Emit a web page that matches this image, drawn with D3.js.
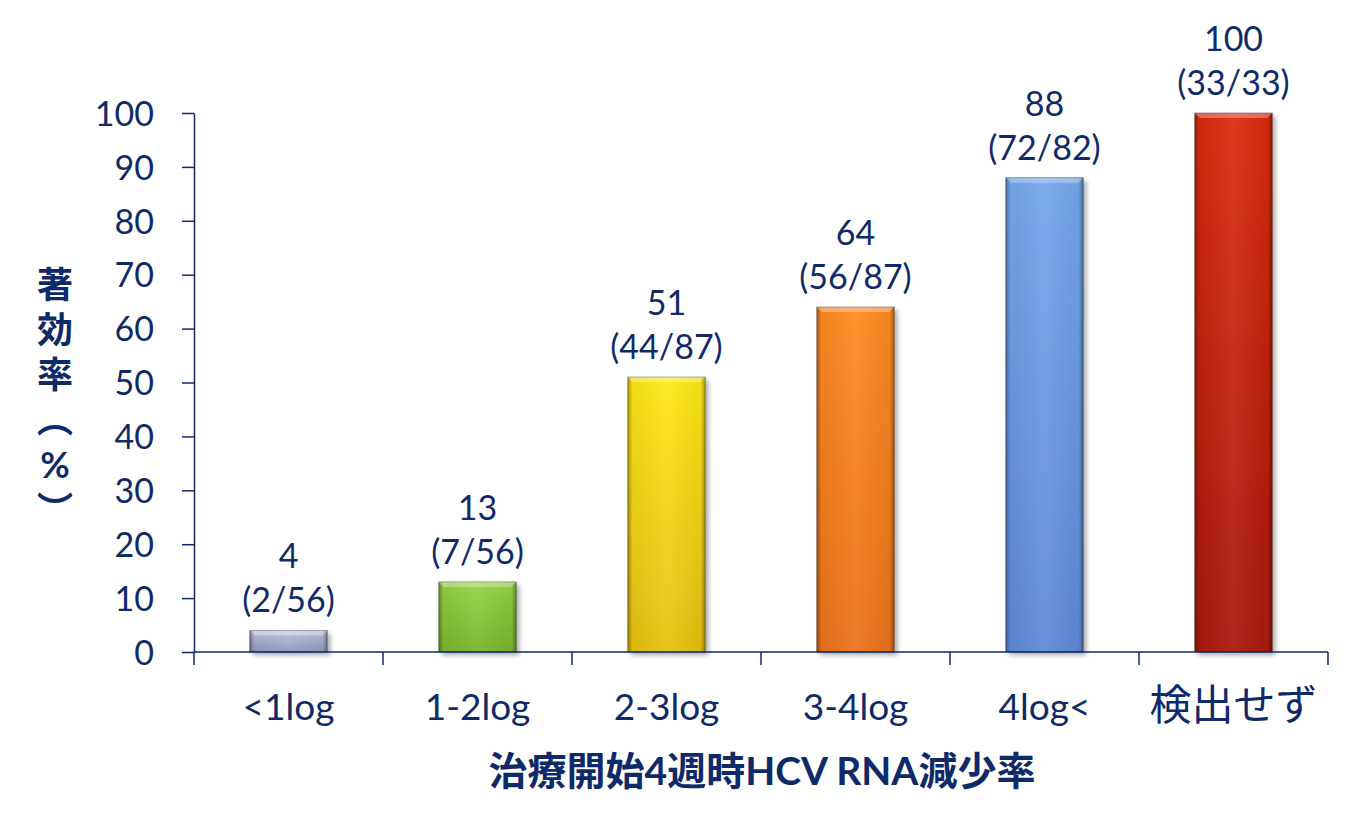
<!DOCTYPE html>
<html>
<head>
<meta charset="utf-8">
<script src="https://cdn.jsdelivr.net/npm/d3@7"></script>
<style>
  body { margin: 0; background: #fff; }
  svg { display: block; }
  text { font-family: Lato, "Noto Sans CJK JP", sans-serif; fill: #0f2a68; }
</style>
</head>
<body>
<svg id="chart" width="1352" height="821"></svg>
<script>
var categories = ["<1log", "1-2log", "2-3log", "3-4log", "4log<", "検出せず"];
var rates = [4, 13, 51, 64, 88, 100];
var counts = ["(2/56)", "(7/56)", "(44/87)", "(56/87)", "(72/82)", "(33/33)"];
var yTicks = [0, 10, 20, 30, 40, 50, 60, 70, 80, 90, 100];
var yTitle = ["著", "効", "率", "︵", "%", "︶"];
var xTitle = "治療開始4週時HCV RNA減少率";
// top colour, bottom colour per bar
var barTop = ["#bcc4de", "#96d446", "#ffe81a", "#ff8c22", "#74a8ee", "#dc2c0c"];
var barBot = ["#9098ba", "#78b42c", "#e6c010", "#ea721c", "#5e8ad6", "#a81a0a"];

var navy = "#0f2a68";
var svg = d3.select("#chart");
var defs = svg.append("defs");

var plotLeft = 194, plotRight = 1328, plotTop = 113, plotBottom = 652;

var x = d3.scaleBand().domain(categories).range([plotLeft, plotRight]).padding(0);
var y = d3.scaleLinear().domain([0, 100]).range([plotBottom, plotTop]);
var barW = x.bandwidth() * 0.41;

// shadow filter
var f = defs.append("filter").attr("id", "shadow").attr("x", "-20%").attr("y", "-20%").attr("width", "150%").attr("height", "150%");
f.append("feGaussianBlur").attr("in", "SourceAlpha").attr("stdDeviation", 2.5);
f.append("feOffset").attr("dx", 3).attr("dy", 3).attr("result", "b");
f.append("feComponentTransfer").append("feFuncA").attr("type", "linear").attr("slope", 0.35);
var fm = f.append("feMerge");
fm.append("feMergeNode");
fm.append("feMergeNode").attr("in", "SourceGraphic");

categories.forEach(function(c, i) {
  var g = defs.append("linearGradient").attr("id", "fill" + i).attr("x1", 0).attr("y1", 0).attr("x2", 0).attr("y2", 1);
  g.append("stop").attr("offset", "0%").attr("stop-color", barTop[i]);
  g.append("stop").attr("offset", "100%").attr("stop-color", barBot[i]);
});
var edge = defs.append("linearGradient").attr("id", "edge").attr("x1", 0).attr("y1", 0).attr("x2", 1).attr("y2", 0);
edge.append("stop").attr("offset", "0%").attr("stop-color", "#000").attr("stop-opacity", 0.35);
edge.append("stop").attr("offset", "6%").attr("stop-color", "#000").attr("stop-opacity", 0.05);
edge.append("stop").attr("offset", "50%").attr("stop-color", "#fff").attr("stop-opacity", 0.06);
edge.append("stop").attr("offset", "94%").attr("stop-color", "#000").attr("stop-opacity", 0.05);
edge.append("stop").attr("offset", "100%").attr("stop-color", "#000").attr("stop-opacity", 0.35);

// bars
var bars = svg.append("g").selectAll("g").data(categories).enter().append("g");
bars.append("rect")
  .attr("x", function(d) { return x(d) + (x.bandwidth() - barW) / 2; })
  .attr("y", function(d, i) { return y(rates[i]); })
  .attr("width", barW)
  .attr("height", function(d, i) { return plotBottom - y(rates[i]); })
  .attr("fill", function(d, i) { return "url(#fill" + i + ")"; })
  .attr("filter", "url(#shadow)");
bars.append("rect")
  .attr("x", function(d) { return x(d) + (x.bandwidth() - barW) / 2; })
  .attr("y", function(d, i) { return y(rates[i]); })
  .attr("width", barW)
  .attr("height", function(d, i) { return plotBottom - y(rates[i]); })
  .attr("fill", "url(#edge)")
  .attr("stroke", "rgba(0,0,0,0.35)")
  .attr("stroke-width", 1);
// top bevel
bars.append("path")
  .attr("d", function(d, i) {
    var x0 = x(d) + (x.bandwidth() - barW) / 2, y0 = y(rates[i]), b = 5;
    return "M" + x0 + "," + y0 + "H" + (x0 + barW) + "L" + (x0 + barW - b) + "," + (y0 + b) + "H" + (x0 + b) + "Z";
  })
  .attr("fill", "#fff").attr("fill-opacity", 0.3);

// value labels
bars.append("text")
  .attr("x", function(d) { return x(d) + x.bandwidth() / 2; })
  .attr("y", function(d, i) { return y(rates[i]) - 62; })
  .attr("text-anchor", "middle").attr("font-size", 34)
  .text(function(d, i) { return rates[i]; });
bars.append("text")
  .attr("x", function(d) { return x(d) + x.bandwidth() / 2; })
  .attr("y", function(d, i) { return y(rates[i]) - 18; })
  .attr("text-anchor", "middle").attr("font-size", 34)
  .text(function(d, i) { return counts[i]; });

// y axis
var yAxis = svg.append("g").attr("transform", "translate(" + plotLeft + ",0)")
  .call(d3.axisLeft(y).tickValues(yTicks).tickSize(12).tickPadding(28).tickSizeOuter(0));
yAxis.selectAll("line, path").attr("stroke", navy).attr("stroke-width", 1.5);
yAxis.selectAll("text").attr("font-size", 34).attr("dy", "0.36em").attr("font-family", null);

// x axis: category boundary ticks
var xAxis = svg.append("g");
xAxis.append("line").attr("x1", plotLeft).attr("x2", plotRight).attr("y1", plotBottom).attr("y2", plotBottom)
  .attr("stroke", navy).attr("stroke-width", 1.5);
xAxis.selectAll(".tk").data(categories.concat(["end"])).enter().append("line")
  .attr("x1", function(d, i) { return plotLeft + i * x.step(); })
  .attr("x2", function(d, i) { return plotLeft + i * x.step(); })
  .attr("y1", plotBottom).attr("y2", plotBottom + 13)
  .attr("stroke", navy).attr("stroke-width", 1.5);
xAxis.selectAll(".lbl").data(categories).enter().append("text")
  .attr("x", function(d) { return x(d) + x.bandwidth() / 2; })
  .attr("y", 720).attr("text-anchor", "middle")
  .attr("font-size", function(d) { return /[^\x00-\x7f]/.test(d) ? 42 : 37; })
  .text(function(d) { return d; });

// axis titles
svg.append("text").attr("x", (plotLeft + plotRight) / 2 + 1).attr("y", 785)
  .attr("text-anchor", "middle").attr("font-size", 39).attr("font-weight", "bold")
  .text(xTitle);
svg.append("g").selectAll("text").data(yTitle).enter().append("text")
  .attr("x", 55).attr("y", function(d, i) { return 298 + i * 45; })
  .attr("text-anchor", "middle").attr("font-size", 36).attr("font-weight", "bold")
  .text(function(d) { return d; });
</script>
</body>
</html>
